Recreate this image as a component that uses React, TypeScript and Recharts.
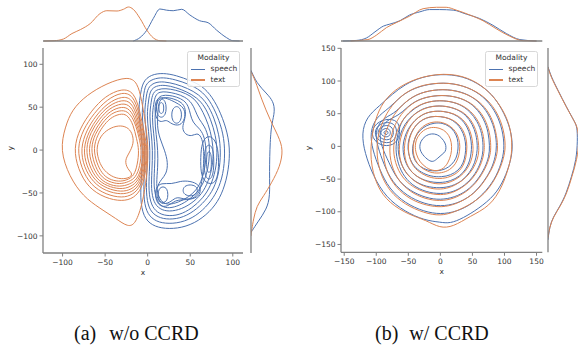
import React from 'react';
import { LineChart, Line, XAxis, YAxis, Label } from 'recharts';

const BLUE = '#4c72b0';
const ORANGE = '#dd8452';
const AXIS = '#808080';
const TEXT = '#333333';
const FONT = 'DejaVu Sans, sans-serif';

// ---------- (a) w/o CCRD : contour lines [x, y], outer -> inner ----------
const leftSpeech: number[][][] = [
  [[-9,62],[-6,80],[4,88],[18,90],[34,87],[50,81],[64,75],[76,62],[86,43],[94,20],[97,-3],[94,-30],[87,-52],[77,-68],[60,-83],[40,-91],[20,-92],[5,-88],[-5,-78],[-9,-57],[-7,-28],[-6,0],[-8,25],[-11,45]],
  [[-5,62],[-3,77],[6,83],[18,85],[33,82],[48,77],[62,70],[73,58],[82,40],[89,19],[91,-3],[89,-28],[82,-48],[72,-63],[57,-77],[39,-85],[20,-86],[7,-82],[-2,-72],[-5,-53],[-4,-27],[-3,0],[-5,24],[-7,44]],
  [[-2,60],[0,73],[8,79],[19,80],[33,77],[47,72],[60,65],[70,54],[78,38],[84,18],[86,-3],[84,-26],[78,-45],[68,-59],[54,-72],[38,-80],[21,-81],[9,-77],[1,-68],[-2,-50],[-1,-26],[0,0],[-2,23],[-4,43]],
  [[1,58],[3,70],[10,75],[20,76],[33,73],[46,68],[58,61],[67,51],[74,36],[80,17],[82,-3],[80,-24],[74,-42],[65,-56],[52,-68],[37,-76],[22,-77],[11,-73],[4,-64],[1,-48],[2,-25],[3,0],[1,22],[-1,41]],
  [[4,56],[6,67],[12,71],[21,72],[33,70],[45,66],[55,60],[62,50],[68,38],[74,22],[77,4],[77,-14],[73,-32],[66,-48],[55,-60],[40,-69],[25,-72],[14,-69],[7,-61],[4,-46],[5,-24],[6,0],[4,21],[2,40]],
  [[7,54],[9,64],[14,68],[22,68],[33,66],[44,62],[52,55],[56,46],[60,36],[67,28],[72,14],[73,-4],[71,-22],[66,-38],[58,-50],[46,-60],[34,-66],[23,-68],[15,-65],[10,-57],[7,-43],[8,-22],[9,0],[7,20],[5,38]],
  [[10,52],[12,61],[17,64],[25,64],[34,62],[43,58],[48,51],[50,42],[53,32],[60,26],[66,18],[69,2],[68,-18],[64,-34],[58,-46],[48,-55],[36,-61],[24,-64],[17,-61],[12,-53],[10,-40],[12,-20],[12,0],[10,18],[8,36]],
  [[12,44],[13,58],[20,62],[30,60],[40,56],[45,48],[44,36],[40,26],[44,18],[52,16],[58,20],[63,16],[66,4],[66,-16],[64,-34],[62,-46],[56,-56],[44,-58],[34,-54],[28,-60],[18,-64],[11,-58],[10,-44],[16,-34],[22,-28],[24,-15],[20,0],[14,14],[11,28]],
  [[8,48],[10,60],[18,62],[28,58],[36,54],[44,48],[44,36],[38,28],[28,30],[22,36],[16,32],[10,36]],
  [[10,49],[11,57],[16,61],[21,57],[22,49],[21,41],[16,37],[11,41]],
  [[13,49],[13.5,54],[16,56],[18.5,54],[19,49],[18.5,44],[16,42],[13.5,44]],
  [[28,41],[29,48],[34,52],[39,48],[40,41],[39,34],[34,30],[29,34]],
  [[62,-14],[63,6],[68,16],[76,16],[82,6],[84,-14],[82,-34],[76,-40],[68,-38],[63,-30]],
  [[66,-14],[67,0],[70,6],[74,6],[77,0],[78,-14],[77,-28],[74,-34],[70,-34],[67,-28]],
  [[69,-14],[69.5,-4],[72,-1],[74.5,-4],[75,-14],[74.5,-24],[72,-27],[69.5,-24]],
  [[9,-44],[16,-38],[28,-40],[38,-36],[50,-36],[60,-40],[63,-48],[58,-56],[46,-58],[32,-58],[24,-66],[14,-66],[9,-57]],
  [[12,-52],[13,-45],[18,-42],[23,-45],[24,-52],[23,-59],[18,-62],[13,-59]],
  [[41,-47],[43,-42],[50,-40],[57,-42],[59,-47],[57,-52],[50,-54],[43,-52]],
];

const leftText: number[][][] = [
  [[-103,0],[-97,27],[-89,47],[-72,64],[-48,78],[-23,86],[-12,79],[-7,58],[-2,28],[1,0],[-1,-31],[-6,-62],[-14,-86],[-23,-90],[-37,-80],[-56,-68],[-76,-54],[-92,-31]],
  [[-87,2],[-80,25],[-66,46],[-50,63],[-30,72],[-16,68],[-9,45],[-4,20],[0,0],[-2,-25],[-7,-45],[-16,-56],[-30,-60],[-50,-56],[-70,-44],[-82,-22]],
  [[-83,2],[-76,24],[-63,43],[-48,59],[-30,68],[-17,64],[-10,43],[-5,19],[-1,0],[-3,-24],[-8,-42],[-17,-52],[-30,-56],[-49,-52],[-67,-41],[-78,-21]],
  [[-79,2],[-72,23],[-61,40],[-47,55],[-30,63],[-18,60],[-11,41],[-6,18],[-2,0],[-4,-23],[-9,-40],[-18,-49],[-31,-52],[-49,-48],[-64,-38],[-75,-20]],
  [[-76,2],[-69,22],[-59,38],[-46,52],[-30,59],[-19,56],[-12,39],[-7,17],[-3,0],[-5,-22],[-10,-38],[-19,-46],[-31,-49],[-48,-45],[-62,-36],[-72,-19]],
  [[-73,2],[-67,21],[-57,36],[-45,49],[-30,55],[-20,52],[-13,37],[-8,16],[-4,0],[-6,-21],[-11,-36],[-20,-43],[-32,-46],[-48,-42],[-60,-34],[-69,-18]],
  [[-70,2],[-64,20],[-55,34],[-44,46],[-30,51],[-21,48],[-14,35],[-9,15],[-5,0],[-7,-20],[-12,-34],[-21,-40],[-33,-43],[-47,-40],[-58,-32],[-66,-17]],
  [[-67,2],[-62,19],[-53,32],[-43,43],[-30,47],[-22,44],[-15,33],[-10,14],[-7,0],[-9,-19],[-14,-32],[-22,-37],[-33,-40],[-46,-37],[-56,-30],[-63,-16]],
  [[-64,2],[-59,18],[-51,30],[-42,39],[-30,43],[-23,40],[-17,30],[-13,13],[-10,0],[-12,-17],[-16,-30],[-24,-35],[-34,-37],[-46,-34],[-54,-27],[-60,-15]],
  [[-60,3],[-56,16],[-46,25],[-34,29],[-24,27],[-18,20],[-16,8],[-22,-4],[-27,-12],[-24,-22],[-17,-28],[-22,-33],[-34,-34],[-46,-29],[-55,-19],[-59,-7]],
];

// marginals of (a): [x, density] on top, [y, density] on the right
const leftTopSpeech = [[-17,0],[-9,0.0012],[-1,0.0038],[6.6,0.0079],[14.4,0.0112],[22,0.0108],[30,0.0106],[40,0.0111],[49.6,0.0091],[61,0.0071],[71,0.0064],[81,0.0038],[92.5,0.0012],[100,0.0001],[108,0]];
const leftTopText = [[-122,0],[-110,0.0001],[-99,0.0007],[-89,0.0026],[-79,0.004],[-67.5,0.0061],[-56,0.0096],[-48,0.0106],[-36,0.0105],[-28.5,0.0111],[-22.6,0.0119],[-17,0.0111],[-9,0.0079],[-1,0.0038],[6.6,0.0011],[14.4,0.0001],[22,0]];
const leftSideSpeech = [[93,0],[78,0.0021],[66,0.0058],[57,0.0083],[45,0.0089],[31,0.0077],[12,0.0071],[-27,0.0068],[-54,0.0071],[-69,0.0058],[-83,0.0027],[-96,0]];
const leftSideText = [[91.5,0],[82,0.0015],[58.5,0.004],[35,0.0071],[16,0.0102],[0.6,0.012],[-19,0.0108],[-38,0.0077],[-54,0.0046],[-65,0.0021],[-81,0.0009],[-92.5,0.0003],[-100,0]];

// ---------- (b) w/ CCRD ----------
const rightSpeech: number[][][] = [
  [[113,0],[110,25],[100,50],[85,75],[65,93],[35,108],[0,111],[-30,106],[-55,95],[-75,80],[-95,62],[-115,45],[-123,20],[-118,-10],[-105,-45],[-85,-78],[-55,-100],[-25,-113],[0,-116],[15,-118],[35,-110],[60,-95],[85,-75],[100,-50],[110,-22]],
  [[100,0],[97,25],[88,50],[72,72],[50,88],[20,97],[-10,97],[-40,90],[-62,77],[-80,58],[-100,45],[-110,22],[-106,-5],[-95,-35],[-80,-65],[-55,-87],[-25,-100],[0,-104],[25,-100],[50,-88],[72,-68],[88,-45],[97,-20]],
  [[88,0],[86,22],[78,45],[64,65],[44,80],[18,87],[-10,87],[-38,80],[-58,65],[-72,50],[-92,42],[-102,22],[-98,0],[-88,-28],[-75,-55],[-52,-76],[-25,-88],[0,-92],[25,-88],[48,-76],[65,-58],[80,-35],[86,-15]],
  [[77,0],[75,22],[68,42],[55,60],[38,72],[15,78],[-10,78],[-35,72],[-52,60],[-65,47],[-85,40],[-96,22],[-92,0],[-80,-25],[-68,-50],[-48,-68],[-22,-79],[0,-82],[22,-78],[42,-68],[58,-52],[70,-32],[76,-15]],
  [[67,0],[65,20],[58,38],[46,54],[30,65],[10,70],[-12,70],[-32,64],[-47,53],[-60,40],[-66,22],[-70,0],[-68,-20],[-60,-42],[-44,-60],[-22,-70],[0,-73],[20,-70],[38,-60],[52,-46],[62,-28],[66,-12]],
  [[58,0],[56,18],[50,34],[40,48],[26,57],[8,62],[-12,62],[-30,57],[-44,47],[-56,34],[-63,18],[-67,0],[-64,-20],[-56,-38],[-42,-53],[-22,-62],[0,-64],[18,-61],[34,-53],[46,-40],[54,-25],[57,-10]],
  [[49,0],[47,16],[42,30],[33,42],[21,50],[5,54],[-13,54],[-28,49],[-40,40],[-50,28],[-56,14],[-59,0],[-57,-18],[-50,-34],[-38,-46],[-20,-54],[0,-56],[16,-53],[30,-46],[40,-35],[46,-22],[48,-10]],
  [[40,0],[38,14],[33,26],[25,36],[14,43],[0,46],[-15,46],[-28,41],[-38,33],[-45,22],[-50,10],[-51,-4],[-48,-18],[-42,-30],[-30,-40],[-15,-46],[2,-47],[16,-44],[28,-37],[36,-26],[39,-12]],
  [[28,0],[27,12],[22,23],[14,31],[3,36],[-10,36],[-22,32],[-32,25],[-39,15],[-43,3],[-44,-10],[-40,-22],[-32,-31],[-20,-37],[-5,-38],[8,-35],[18,-28],[25,-18],[27,-8]],
  [[9,-2],[8,5],[2,13],[-4,18],[-14,20],[-24,16],[-31,8],[-33,-3],[-28,-13],[-18,-22],[-11,-24],[-4,-18],[3,-12],[8,-8]],
  [[-81,21],[-83,24],[-86,24],[-89,21],[-86,18],[-83,18]],
  [[-77,21],[-80,27],[-86,28],[-93,24],[-93,18],[-86,14],[-80,15]],
  [[-72,21],[-76,31],[-86,33],[-97,27],[-98,16],[-87,9],[-76,11]],
  [[-67,22],[-71,35],[-86,38],[-101,30],[-103,14],[-88,4],[-72,7]],
  [[-62,23],[-66,40],[-85,43],[-105,33],[-108,12],[-90,-1],[-68,3]],
];

const rightText: number[][][] = [
  [[112,0],[110,25],[102,48],[87,72],[66,93],[35,109],[-5,112],[-48,101],[-79,81],[-97,56],[-107,20],[-110,-20],[-100,-60],[-80,-87],[-48,-105],[-22,-113],[-1,-125],[20,-123],[46,-107],[77,-92],[97,-62],[110,-22]],
  [[102,0],[99,25],[90,50],[74,72],[50,88],[20,97],[-12,97],[-42,90],[-66,74],[-84,52],[-98,20],[-100,-15],[-92,-48],[-74,-75],[-48,-93],[-18,-104],[5,-106],[28,-98],[52,-86],[74,-68],[90,-42],[99,-18]],
  [[90,0],[87,22],[80,45],[66,65],[45,79],[18,87],[-10,87],[-38,80],[-60,64],[-76,44],[-88,18],[-90,-15],[-82,-45],[-65,-68],[-42,-84],[-15,-92],[8,-93],[30,-86],[52,-73],[68,-55],[82,-32],[88,-15]],
  [[79,0],[77,22],[70,42],[57,60],[38,72],[15,78],[-10,78],[-35,72],[-54,58],[-68,40],[-78,16],[-80,-15],[-72,-42],[-57,-62],[-36,-76],[-12,-83],[10,-83],[30,-76],[48,-64],[62,-48],[73,-28],[78,-12]],
  [[69,0],[67,20],[60,38],[48,54],[31,65],[10,70],[-12,70],[-33,64],[-50,52],[-62,36],[-72,14],[-74,-12],[-66,-38],[-52,-56],[-32,-68],[-10,-74],[10,-74],[28,-67],[44,-56],[56,-42],[65,-24],[68,-10]],
  [[60,0],[58,18],[52,34],[42,48],[27,57],[8,62],[-12,62],[-31,56],[-46,45],[-56,30],[-63,12],[-65,-10],[-60,-32],[-48,-48],[-30,-60],[-10,-66],[10,-65],[26,-58],[40,-48],[51,-35],[58,-20],[60,-8]],
  [[51,0],[49,16],[44,30],[35,42],[22,50],[5,54],[-13,54],[-29,49],[-41,39],[-50,26],[-55,10],[-57,-8],[-53,-28],[-43,-42],[-27,-52],[-8,-58],[10,-57],[24,-51],[36,-42],[45,-30],[50,-16],[51,-6]],
  [[42,0],[40,14],[35,26],[27,36],[15,43],[0,46],[-15,46],[-29,41],[-39,32],[-46,20],[-50,5],[-50,-10],[-46,-25],[-37,-37],[-22,-46],[-5,-50],[12,-48],[25,-42],[35,-32],[40,-18]],
  [[31,0],[29,12],[24,23],[16,31],[4,37],[-10,38],[-23,34],[-33,26],[-40,14],[-43,0],[-42,-14],[-37,-26],[-27,-35],[-13,-41],[2,-41],[15,-36],[24,-27],[29,-15]],
  [[18,0],[16,12],[10,22],[0,28],[-14,30],[-27,25],[-36,15],[-40,2],[-38,-12],[-32,-24],[-22,-33],[-10,-38],[3,-36],[12,-26],[17,-12]],
];

const rightTopSpeech = [[-152,0],[-131,0.0002],[-115,0.0011],[-102,0.0032],[-89,0.0052],[-79,0.0059],[-63,0.0071],[-48,0.0091],[-32,0.0102],[-17,0.011],[-1,0.011],[20,0.0108],[40.5,0.0094],[61,0.0079],[82,0.0055],[103,0.0026],[124,0.0005],[150,0]];
const rightTopText = [[-140,0],[-113,0.0005],[-100,0.002],[-84,0.0047],[-69,0.0064],[-48,0.0087],[-27,0.0113],[-6,0.0118],[9,0.0118],[25,0.0108],[46,0.0091],[66.5,0.0071],[87,0.0043],[108,0.0017],[129,0.0001],[150,0]];
const rightSideSpeech = [[121.7,0],[106.5,0.0012],[86,0.0037],[60.6,0.0068],[37.6,0.0099],[30,0.0108],[9.6,0.011],[-21,0.0105],[-46.5,0.0087],[-72,0.0068],[-92,0.0044],[-108,0.0019],[-123,0.0006],[-143,0]];
const rightSideText = [[121,0],[106,0.0011],[86,0.0036],[60,0.0068],[37,0.01],[28,0.011],[8,0.0116],[-20,0.0108],[-46,0.0089],[-72,0.007],[-92,0.0045],[-108,0.002],[-123,0.0006],[-140,0]];

const ticksA = [-100, -50, 0, 50, 100];
const ticksB = [-150, -100, -50, 0, 50, 100, 150];

const fmt = (v: number) => (v < 0 ? `\u2212${Math.abs(v)}` : `${v}`);
const toXY = (a: number[][]) => a.map(([x, y]) => ({ x, y }));
const toXD = (a: number[][]) => a.map(([x, d]) => ({ x, d }));
const toYD = (a: number[][]) => a.map(([y, d]) => ({ y, d }));

const tickStyle = { fontSize: 7.5, fill: TEXT, fontFamily: FONT };

type PanelProps = {
  left: number;
  right: number;
  bottom: number;
  xDomain: number[];
  yDomain: number[];
  ticksX: number[];
  ticksY: number[];
  speech: number[][][];
  text: number[][][];
};

function ContourPanel({ left, right, bottom, xDomain, yDomain, ticksX, ticksY, speech, text }: PanelProps) {
  return (
    <div style={{ position: 'absolute', left, top: 0 }}>
      <LineChart width={260} height={290} margin={{ top: 48, right, bottom, left: 0 }}>
        <XAxis
          type="number"
          dataKey="x"
          domain={xDomain}
          ticks={ticksX}
          interval={0}
          allowDataOverflow
          height={30}
          tickSize={3.5}
          tickMargin={3}
          axisLine={{ stroke: AXIS, strokeWidth: 1.3 }}
          tickLine={{ stroke: AXIS }}
          tick={tickStyle}
          tickFormatter={fmt}
        >
          <Label value="x" position="insideBottom" offset={8} style={tickStyle} />
        </XAxis>
        <YAxis
          type="number"
          domain={yDomain}
          ticks={ticksY}
          interval={0}
          allowDataOverflow
          width={43}
          tickSize={3.5}
          tickMargin={2}
          axisLine={{ stroke: AXIS, strokeWidth: 1.3 }}
          tickLine={{ stroke: AXIS }}
          tick={tickStyle}
          tickFormatter={fmt}
        >
          <Label value="y" angle={-90} position="insideLeft" offset={10} style={tickStyle} />
        </YAxis>
        {speech.map((c, i) => (
          <Line key={`s${i}`} data={toXY(c)} dataKey="y" type="basisClosed" stroke={BLUE} strokeWidth={1} dot={false} activeDot={false} isAnimationActive={false} />
        ))}
        {text.map((c, i) => (
          <Line key={`t${i}`} data={toXY(c)} dataKey="y" type="basisClosed" stroke={ORANGE} strokeWidth={1} dot={false} activeDot={false} isAnimationActive={false} />
        ))}
      </LineChart>
    </div>
  );
}

function TopMarginal({ left, right, xDomain, ticksX, speech, text }: { left: number; right: number; xDomain: number[]; ticksX: number[]; speech: number[][]; text: number[][] }) {
  return (
    <div style={{ position: 'absolute', left, top: 0 }}>
      <LineChart width={260} height={50} margin={{ top: 5, right, bottom: 0, left: 43 }}>
        <XAxis type="number" dataKey="x" domain={xDomain} ticks={ticksX} interval={0} allowDataOverflow height={9} tick={false} tickSize={3.5} axisLine={{ stroke: AXIS, strokeWidth: 1.3 }} tickLine={{ stroke: AXIS }} />
        <YAxis type="number" domain={[0, 0.0126]} hide />
        <Line data={toXD(speech)} dataKey="d" type="monotone" stroke={BLUE} strokeWidth={1} dot={false} activeDot={false} isAnimationActive={false} />
        <Line data={toXD(text)} dataKey="d" type="monotone" stroke={ORANGE} strokeWidth={1} dot={false} activeDot={false} isAnimationActive={false} />
      </LineChart>
    </div>
  );
}

function SideMarginal({ left, yDomain, ticksY, bottom, speech, text }: { left: number; yDomain: number[]; ticksY: number[]; bottom: number; speech: number[][]; text: number[][] }) {
  return (
    <div style={{ position: 'absolute', left, top: 0 }}>
      <LineChart width={50} height={290} margin={{ top: 48, right: 4, bottom, left: 6 }}>
        <XAxis type="number" dataKey="d" domain={[0, 0.013]} allowDataOverflow hide />
        <YAxis type="number" domain={yDomain} ticks={ticksY} interval={0} allowDataOverflow width={5} tick={false} tickSize={3.5} axisLine={{ stroke: AXIS, strokeWidth: 1.3 }} tickLine={{ stroke: AXIS }} />
        <Line data={toYD(speech)} dataKey="y" type="basis" stroke={BLUE} strokeWidth={1} dot={false} activeDot={false} isAnimationActive={false} />
        <Line data={toYD(text)} dataKey="y" type="basis" stroke={ORANGE} strokeWidth={1} dot={false} activeDot={false} isAnimationActive={false} />
      </LineChart>
    </div>
  );
}

function ModalityLegend({ left }: { left: number }) {
  const row = (label: string, color: string, top: number) => (
    <div style={{ position: 'absolute', left: 0, top, height: 10, width: '100%' }}>
      <div style={{ position: 'absolute', left: 3, top: 4.4, width: 14, height: 1.2, background: color }} />
      <div style={{ position: 'absolute', left: 22.5, top: 0, lineHeight: '10px' }}>{label}</div>
    </div>
  );
  return (
    <div
      style={{
        position: 'absolute',
        left,
        top: 51,
        width: 53,
        height: 36,
        boxSizing: 'border-box',
        border: '1px solid #d8d8d8',
        borderRadius: 2.5,
        background: 'rgba(255,255,255,0.85)',
        fontFamily: FONT,
        fontSize: 7.5,
        color: TEXT,
      }}
    >
      <div style={{ position: 'absolute', left: 0, top: 1, width: '100%', textAlign: 'center', lineHeight: '10px' }}>Modality</div>
      {row('speech', BLUE, 12.3)}
      {row('text', ORANGE, 23)}
    </div>
  );
}

const caption: React.CSSProperties = {
  position: 'absolute',
  top: 323,
  fontFamily: '"Liberation Serif", "Times New Roman", serif',
  fontSize: 20,
  lineHeight: '20px',
  color: '#111',
  whiteSpace: 'nowrap',
};

export default function App() {
  return (
    <div style={{ position: 'absolute', left: 0, top: 0, width: 578, height: 345, overflow: 'hidden', background: '#fff' }}>
      <TopMarginal left={0} right={17} xDomain={[-123, 112]} ticksX={ticksA} speech={leftTopSpeech} text={leftTopText} />
      <SideMarginal left={240} yDomain={[-120, 119]} ticksY={ticksA} bottom={37} speech={leftSideSpeech} text={leftSideText} />
      <ContourPanel left={0} right={17} bottom={7} xDomain={[-123, 112]} yDomain={[-120, 119]} ticksX={ticksA} ticksY={ticksA} speech={leftSpeech} text={leftText} />
      <ModalityLegend left={187} />

      <TopMarginal left={298} right={15.7} xDomain={[-155, 159]} ticksX={ticksB} speech={rightTopSpeech} text={rightTopText} />
      <SideMarginal left={537.3} yDomain={[-162, 150.5]} ticksY={ticksB} bottom={37.7} speech={rightSideSpeech} text={rightSideText} />
      <ContourPanel left={298} right={15.7} bottom={7.7} xDomain={[-155, 159]} yDomain={[-162, 150.5]} ticksX={ticksB} ticksY={ticksB} speech={rightSpeech} text={rightText} />
      <ModalityLegend left={485} />

      <div style={{ ...caption, left: 74 }}>
        <span>(a)</span>
        <span style={{ marginLeft: 13 }}>w/o CCRD</span>
      </div>
      <div style={{ ...caption, left: 375 }}>
        <span>(b)</span>
        <span style={{ marginLeft: 11 }}>w/ CCRD</span>
      </div>
    </div>
  );
}
